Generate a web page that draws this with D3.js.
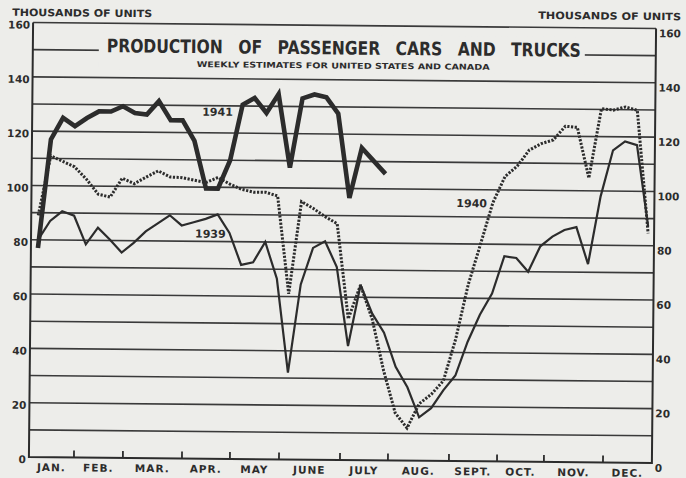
<!DOCTYPE html>
<html>
<head>
<meta charset="utf-8">
<script src="https://cdn.jsdelivr.net/npm/d3@7"></script>
<style>
  body { margin: 0; background: #ededea; }
  svg { display: block; font-family: "DejaVu Sans", sans-serif; }
</style>
</head>
<body>
<svg id="chart" width="686" height="478"></svg>
<script>
// values (thousands of units, one point per week)
const yLabels = [0, 20, 40, 60, 80, 100, 120, 140, 160];
const gridValues = [10, 20, 30, 40, 50, 60, 70, 80, 90, 100, 110, 120, 130, 140, 150, 160];
const months = ["JAN.", "FEB.", "MAR.", "APR.", "MAY", "JUNE", "JULY", "AUG.", "SEPT.", "OCT.", "NOV.", "DEC."];
// month borders, in weeks
const monthBounds = [-0.585, 3.18, 7.27, 12.21, 16.22, 20.32, 25.42, 29.43, 34.53, 38.55, 42.47, 47.41, 51.5];

const weeks1941 = [0, 1, 2, 3, 4, 5, 6, 7, 8, 9, 10, 11, 12, 13, 14, 15, 16, 17, 18, 19, 20, 21, 22, 23, 24, 25, 26, 27, 29];
const values1941 = [77, 117, 125, 122, 125, 127.5, 127.5, 129.5, 127, 126.5, 131.5, 124.5, 124.5, 117, 99.5, 99.5,
  110, 130.5, 133, 127.5, 134.5, 107.5, 133, 134.5, 133.5, 127.5, 96.5, 115, 105.5];

const values1940 = [89, 111, 109, 107, 102.5, 97, 96, 103, 101, 103.5, 105.8, 103.6, 103.4, 102.5, 101.7, 103.6,
  101.2, 99.3, 98.3, 98.3, 97, 61, 95, 92.5, 89.5, 87, 52, 64.5, 52, 33, 17.5, 12, 21, 24.5, 29.5, 45,
  65, 80, 95.3, 105, 108.8, 114.8, 117.2, 118.6, 123.7, 123.3, 104.7, 130.3, 129.8, 131, 129.8, 84.5];

const values1939 = [80, 87, 90.6, 89, 78.5, 84.7, 80.4, 75.6, 79.2, 83.5, 86.5, 89.5, 85.8, 87, 88.3, 90,
  83.2, 71.5, 72.5, 80, 66.5, 32, 64.5, 78, 80.5, 71, 42, 64.5, 54, 47, 34.5, 27, 16, 19.4, 26, 31.5,
  44, 54, 61.8, 75.6, 75, 70, 79.4, 83, 85.5, 86.6, 73, 98, 115, 118.3, 117, 87];

const ink = "#2c2c2c";
const svg = d3.select("#chart");

// the scan is turned a little clockwise
const chart = svg.append("g").attr("transform", "rotate(0.55, 343, 242)");

const x = d3.scaleLinear()
  .domain([monthBounds[0], monthBounds[monthBounds.length - 1]])
  .range([31, 654]);
const y = d3.scaleLinear().domain([0, 160]).range([460, 25.5]);

// horizontal rulings
chart.append("g")
  .selectAll("line")
  .data(gridValues)
  .enter()
  .append("line")
  .attr("x1", x.range()[0])
  .attr("x2", x.range()[1])
  .attr("y1", d => y(d))
  .attr("y2", d => y(d))
  .attr("stroke", "#3a3a3a")
  .attr("stroke-width", 1.6);

// frame: left, right, bottom
chart.append("path")
  .attr("d", `M${x.range()[0]},${y(160)}V${y(0)}H${x.range()[1]}V${y(160)}`)
  .attr("fill", "none")
  .attr("stroke", ink)
  .attr("stroke-width", 2);

// month tick marks
chart.append("g")
  .selectAll("line")
  .data(monthBounds.slice(1, -1))
  .enter()
  .append("line")
  .attr("x1", d => x(d))
  .attr("x2", d => x(d))
  .attr("y1", y(0))
  .attr("y2", y(0) - 7)
  .attr("stroke", ink)
  .attr("stroke-width", 1.8);

chart.append("g")
  .selectAll("text")
  .data(months)
  .enter()
  .append("text")
  .attr("x", (d, i) => x((monthBounds[i] + monthBounds[i + 1]) / 2))
  .attr("y", 474)
  .attr("text-anchor", "middle")
  .attr("font-size", 10.5)
  .attr("font-weight", "bold")
  .attr("letter-spacing", 1)
  .attr("fill", ink)
  .text(d => d);

// value labels on both sides
chart.append("g")
  .selectAll("text")
  .data(yLabels)
  .enter()
  .append("text")
  .attr("x", 28)
  .attr("y", d => y(d) + 2.5)
  .attr("dy", "0.35em")
  .attr("text-anchor", "end")
  .attr("font-size", 10.5)
  .attr("font-weight", "bold")
  .attr("fill", ink)
  .text(d => d);

chart.append("g")
  .selectAll("text")
  .data(yLabels)
  .enter()
  .append("text")
  .attr("x", 657)
  .attr("y", d => y(d) + 5)
  .attr("dy", "0.35em")
  .attr("font-size", 10.5)
  .attr("font-weight", "bold")
  .attr("fill", ink)
  .text(d => d);

chart.append("text")
  .attr("x", 10).attr("y", 19)
  .attr("font-size", 10).attr("font-weight", "bold")
  .attr("textLength", 140).attr("lengthAdjust", "spacingAndGlyphs")
  .attr("fill", ink)
  .text("THOUSANDS OF UNITS");

chart.append("text")
  .attr("x", 536).attr("y", 17)
  .attr("font-size", 10).attr("font-weight", "bold")
  .attr("textLength", 143).attr("lengthAdjust", "spacingAndGlyphs")
  .attr("fill", ink)
  .text("THOUSANDS OF UNITS");

// title sits on a blank patch that breaks the 150 ruling
chart.append("rect")
  .attr("x", 97).attr("y", 35)
  .attr("width", 486).attr("height", 37)
  .attr("fill", "#ededea");

chart.append("text")
  .attr("x", 105).attr("y", 54.5)
  .attr("font-size", 18.5).attr("font-weight", "bold")
  .attr("word-spacing", 12)
  .attr("textLength", 474).attr("lengthAdjust", "spacingAndGlyphs")
  .attr("fill", ink)
  .text("PRODUCTION OF PASSENGER CARS AND TRUCKS");

chart.append("text")
  .attr("x", 195).attr("y", 68.5)
  .attr("font-size", 8).attr("font-weight", "bold")
  .attr("textLength", 293).attr("lengthAdjust", "spacingAndGlyphs")
  .attr("fill", ink)
  .text("WEEKLY ESTIMATES FOR UNITED STATES AND CANADA");

// series
const line = d3.line()
  .x(d => x(d[0]))
  .y(d => y(d[1]));

const series = [
  { name: "1939", data: values1939.map((v, i) => [i, v]), width: 2.2, dash: null },
  { name: "1940", data: values1940.map((v, i) => [i, v]), width: 3, dash: "2.2,1.5" },
  { name: "1941", data: values1941.map((v, i) => [weeks1941[i], v]), width: 4.6, dash: null }
];

chart.append("g")
  .selectAll("path")
  .data(series)
  .enter()
  .append("path")
  .attr("d", d => line(d.data))
  .attr("fill", "none")
  .attr("stroke", ink)
  .attr("stroke-width", d => d.width)
  .attr("stroke-dasharray", d => d.dash)
  .attr("stroke-linejoin", "miter")
  .attr("stroke-miterlimit", 3);

const seriesLabels = [
  { text: "1941", x: 201, y: 117 },
  { text: "1939", x: 195, y: 239 },
  { text: "1940", x: 456, y: 206 }
];

chart.append("g")
  .selectAll("text")
  .data(seriesLabels)
  .enter()
  .append("text")
  .attr("x", d => d.x)
  .attr("y", d => d.y)
  .attr("font-size", 11)
  .attr("font-weight", "bold")
  .attr("fill", ink)
  .text(d => d.text);
</script>
</body>
</html>
